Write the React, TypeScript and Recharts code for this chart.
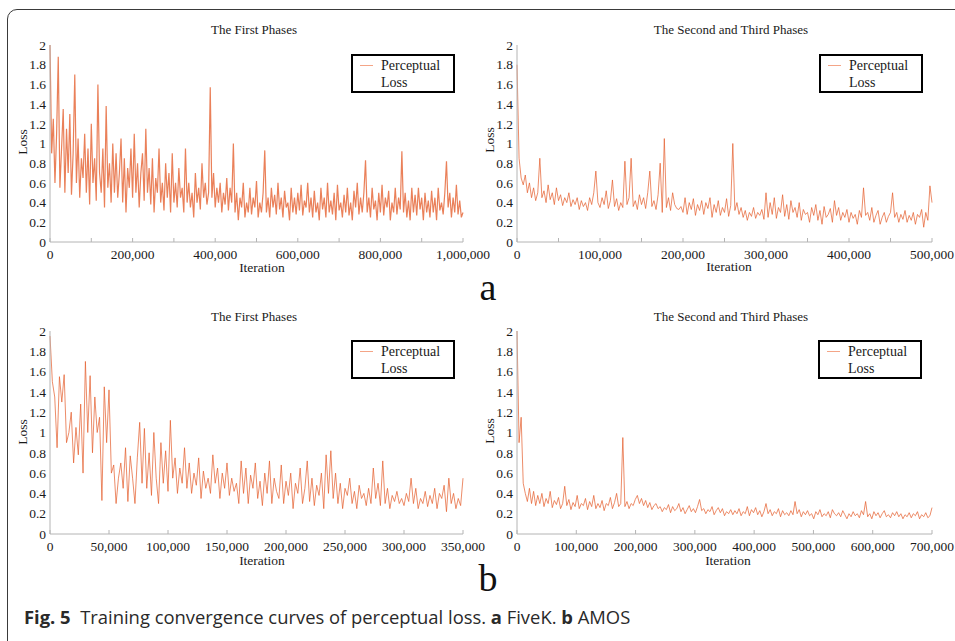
import React from 'react';
import { LineChart, Line, XAxis, YAxis, Legend } from 'recharts';

// ---------- data ----------
const fivekFirstStep = 4000;
const fivekFirstLoss = [
  2.0, 0.9, 1.25, 0.6, 1.1, 1.88, 0.55, 0.95, 1.35, 0.5,
  1.15, 0.7, 1.3, 0.48, 0.9, 1.7, 0.6, 1.05, 0.45, 0.85,
  0.65, 1.1, 0.5, 0.95, 0.38, 1.2, 0.6, 0.85, 0.42, 1.6,
  0.7, 0.5, 0.95, 0.35, 1.38, 0.55, 0.8, 0.4, 1.0, 0.5,
  0.9, 0.45, 0.7, 1.05, 0.4, 0.85, 0.3, 0.75, 0.55, 0.95,
  0.45, 1.1, 0.5, 0.8, 0.35, 0.7, 0.9, 0.42, 1.15, 0.5,
  0.75, 0.38, 0.85, 0.3, 0.65, 0.5, 0.95, 0.4, 0.6, 0.32,
  0.8, 0.45, 0.7, 0.3, 0.9, 0.4, 0.6, 0.35, 0.75, 0.45,
  0.55, 0.3, 0.95, 0.4, 0.6, 0.35, 0.5, 0.25, 0.7, 0.4,
  0.55, 0.33, 0.8, 0.45, 0.6, 0.38, 0.5, 1.57, 0.45, 0.7,
  0.35, 0.55, 0.4, 0.6, 0.3, 0.5, 0.38, 0.65, 0.32, 0.55,
  0.4, 1.0, 0.3, 0.5, 0.22, 0.45, 0.35, 0.6, 0.25, 0.4,
  0.3, 0.55, 0.28, 0.45, 0.35, 0.62, 0.25, 0.4, 0.3, 0.5,
  0.93, 0.3, 0.45, 0.25, 0.55, 0.35, 0.48, 0.28, 0.6, 0.33,
  0.45, 0.25, 0.52, 0.35, 0.4, 0.22, 0.55, 0.3, 0.45, 0.28,
  0.5, 0.32, 0.58, 0.27, 0.42, 0.35, 0.6, 0.3, 0.45, 0.25,
  0.52, 0.3, 0.4, 0.22, 0.55, 0.33, 0.45, 0.25, 0.6, 0.3,
  0.42, 0.28, 0.5, 0.22, 0.58, 0.32, 0.4, 0.25, 0.48, 0.3,
  0.55, 0.27, 0.4, 0.22, 0.52, 0.35, 0.6, 0.28, 0.45, 0.3,
  0.5, 0.83, 0.3, 0.45, 0.25, 0.55, 0.33, 0.42, 0.22, 0.5,
  0.3, 0.58, 0.27, 0.45, 0.35, 0.52, 0.22, 0.4, 0.3, 0.55,
  0.28, 0.45, 0.33, 0.92, 0.3, 0.5, 0.25, 0.42, 0.22, 0.55,
  0.3, 0.48, 0.27, 0.55, 0.33, 0.45, 0.22, 0.5, 0.3, 0.42,
  0.25, 0.52, 0.3, 0.45, 0.22, 0.55, 0.32, 0.4, 0.28, 0.5,
  0.82, 0.35, 0.5, 0.25, 0.45, 0.3, 0.58, 0.28, 0.42, 0.25,
  0.3,
];

const fivekSecondStep = 2500;
const fivekSecondLoss = [
  1.8, 0.85, 0.65, 0.58, 0.68, 0.5, 0.6, 0.45, 0.55, 0.42,
  0.5, 0.85, 0.45, 0.52, 0.4, 0.58, 0.43, 0.5, 0.38, 0.55,
  0.42, 0.48, 0.37, 0.45, 0.4, 0.5, 0.36, 0.43, 0.38, 0.45,
  0.33, 0.42, 0.36, 0.4, 0.32, 0.45, 0.38, 0.5, 0.72, 0.4,
  0.35, 0.45, 0.38, 0.52, 0.34, 0.42, 0.63, 0.36, 0.44, 0.32,
  0.4, 0.35, 0.82, 0.38, 0.45, 0.85, 0.36, 0.42, 0.33, 0.48,
  0.38, 0.45, 0.34, 0.5, 0.72, 0.36, 0.42, 0.33, 0.48, 0.8,
  0.3, 1.05, 0.35, 0.45, 0.32, 0.5, 0.38, 0.34, 0.33, 0.36,
  0.3, 0.45, 0.28, 0.4, 0.33, 0.44, 0.27, 0.38, 0.32, 0.42,
  0.28, 0.4, 0.34, 0.45, 0.25, 0.38, 0.3, 0.42, 0.27, 0.35,
  0.3, 0.44, 0.26, 0.37, 1.0, 0.32, 0.4, 0.28, 0.35, 0.25,
  0.32, 0.22, 0.3, 0.26, 0.35, 0.24, 0.3, 0.27, 0.33, 0.23,
  0.5, 0.25, 0.4, 0.28, 0.45, 0.24, 0.35, 0.3, 0.48, 0.26,
  0.38, 0.23, 0.42, 0.3, 0.35, 0.25, 0.4, 0.22, 0.33, 0.28,
  0.3, 0.2, 0.35, 0.27, 0.38, 0.22, 0.32, 0.18, 0.36, 0.25,
  0.28, 0.34, 0.2, 0.42, 0.27, 0.35, 0.22, 0.3, 0.25, 0.33,
  0.2, 0.3, 0.24, 0.28, 0.18, 0.32, 0.25, 0.55, 0.27, 0.3,
  0.22, 0.35, 0.2, 0.27, 0.32, 0.18, 0.25, 0.3, 0.2, 0.26,
  0.3, 0.5, 0.25, 0.3, 0.2, 0.28, 0.23, 0.32, 0.2, 0.27,
  0.22, 0.3, 0.18, 0.28, 0.25, 0.33, 0.15, 0.3, 0.22, 0.57,
  0.4,
];

const amosFirstStep = 2000;
const amosFirstLoss = [
  1.95, 1.5, 1.35, 0.85, 1.55, 1.3, 1.57, 0.9, 1.0, 1.2,
  0.7, 1.05, 0.78, 1.28, 0.6, 1.7, 1.0, 1.56, 0.8, 1.35,
  1.0, 1.15, 0.33, 1.45, 0.9, 1.42, 0.6, 0.68, 0.3, 0.55,
  0.7, 0.45, 0.85, 0.32, 0.77, 0.55, 0.3, 0.75, 1.1, 0.5,
  1.04, 0.45, 0.8, 0.38, 1.0, 0.55, 0.3, 0.9, 0.5, 0.82,
  0.42, 1.12, 0.55, 0.75, 0.4, 0.65, 0.5, 0.85, 0.45, 0.7,
  0.4, 0.6, 0.48, 0.75, 0.35, 0.62, 0.45, 0.55, 0.4, 0.78,
  0.5, 0.65, 0.35, 0.6, 0.45, 0.7, 0.38, 0.55, 0.42, 0.5,
  0.3, 0.72, 0.4, 0.65, 0.3, 0.58, 0.45, 0.7, 0.35, 0.52,
  0.28, 0.6, 0.4, 0.72, 0.3, 0.55, 0.42, 0.35, 0.68, 0.3,
  0.52, 0.38, 0.6, 0.25, 0.5, 0.4, 0.65, 0.3, 0.45, 0.72,
  0.32, 0.55, 0.28, 0.48, 0.38, 0.6, 0.25, 0.78, 0.4, 0.82,
  0.35, 0.6, 0.3, 0.5, 0.25, 0.45, 0.38, 0.55, 0.3, 0.42,
  0.25, 0.48, 0.35, 0.4, 0.28, 0.45, 0.3, 0.65, 0.35, 0.5,
  0.28, 0.72, 0.3, 0.45, 0.25, 0.38, 0.32, 0.42, 0.3, 0.35,
  0.28, 0.4, 0.32, 0.55, 0.3, 0.45, 0.25, 0.35, 0.3, 0.42,
  0.27, 0.38, 0.3, 0.45, 0.25, 0.4, 0.35, 0.48, 0.22, 0.55,
  0.3, 0.4, 0.25, 0.35, 0.28, 0.55,
];

const amosSecondStep = 3500;
const amosSecondLoss = [
  2.0, 0.9, 1.15, 0.5, 0.4, 0.32, 0.45, 0.3, 0.42, 0.28,
  0.38, 0.3, 0.4, 0.27, 0.35, 0.3, 0.42, 0.26, 0.33, 0.29,
  0.36, 0.25, 0.3, 0.47, 0.28, 0.34, 0.24, 0.31, 0.27, 0.38,
  0.25, 0.3, 0.28, 0.35, 0.24, 0.32, 0.27, 0.38, 0.25, 0.3,
  0.26, 0.33, 0.23, 0.3, 0.28, 0.36, 0.25, 0.31, 0.4, 0.27,
  0.3, 0.95, 0.27, 0.32, 0.25, 0.3, 0.28, 0.34, 0.38, 0.3,
  0.35, 0.28, 0.33, 0.26, 0.31, 0.24, 0.28, 0.3, 0.25, 0.27,
  0.22, 0.26, 0.24, 0.29, 0.21, 0.27, 0.23, 0.25, 0.3, 0.22,
  0.26, 0.2, 0.24, 0.28, 0.22, 0.25, 0.21, 0.27, 0.34, 0.23,
  0.25, 0.2, 0.24, 0.22, 0.27, 0.19, 0.23, 0.26, 0.21, 0.25,
  0.18, 0.22, 0.2, 0.24, 0.19, 0.23, 0.2, 0.25, 0.18, 0.22,
  0.2, 0.27, 0.18, 0.24, 0.21, 0.26, 0.19, 0.23, 0.17, 0.22,
  0.3, 0.2, 0.24, 0.18, 0.22, 0.2, 0.25, 0.17, 0.23, 0.19,
  0.21, 0.18, 0.23, 0.19, 0.32, 0.2, 0.24, 0.17, 0.22, 0.19,
  0.23, 0.18, 0.2, 0.15, 0.22, 0.19, 0.24, 0.17, 0.2, 0.18,
  0.22, 0.16, 0.24, 0.2, 0.18, 0.21, 0.17, 0.23, 0.19, 0.15,
  0.2, 0.17, 0.22, 0.18, 0.2, 0.16, 0.23, 0.19, 0.32, 0.17,
  0.2, 0.15, 0.22, 0.18, 0.21, 0.16, 0.2, 0.23, 0.17, 0.19,
  0.16, 0.21, 0.18, 0.22, 0.17, 0.2, 0.15, 0.19, 0.17, 0.21,
  0.16, 0.2, 0.18, 0.22, 0.15, 0.19, 0.17, 0.21, 0.16, 0.18,
  0.26,
];

const yTicks = [0, 0.2, 0.4, 0.6, 0.8, 1, 1.2, 1.4, 1.6, 1.8, 2];

const fivekFirstTicks = [0, 100000, 200000, 300000, 400000, 500000, 600000, 700000, 800000, 900000, 1000000];
const fivekFirstLabels = [0, 200000, 400000, 600000, 800000, 1000000];
const fivekSecondTicks = [0, 50000, 100000, 150000, 200000, 250000, 300000, 350000, 400000, 450000, 500000];
const fivekSecondLabels = [0, 100000, 200000, 300000, 400000, 500000];
const amosFirstTicks = [0, 50000, 100000, 150000, 200000, 250000, 300000, 350000];
const amosSecondTicks = [0, 100000, 200000, 300000, 400000, 500000, 600000, 700000];

const firstTitle = 'The First Phases';
const secondTitle = 'The Second and Third Phases';
const seriesName = 'Perceptual Loss';

// ---------- styles ----------
const SERIF = 'Liberation Serif, Tinos, Nimbus Roman, serif';
const LINE = '#e5602f';
const LEGEND_LINE = '#f4a587';
const AXIS = '#b4b4b4';
const TEXT = '#1a1a1a';

const buildRows = (loss: number[], step: number) => loss.map((v, i) => ({ iter: i * step, loss: v }));

const fmt = (v: number) => (v === 0 ? '0' : v.toLocaleString('en-US'));

const makeXTick = (labels: number[]) => (props: any) => {
  const { x, y, payload } = props;
  const v = payload.value as number;
  if (!labels.includes(v)) return <g />;
  return (
    <text x={x} y={y} dy="0.71em" textAnchor="middle" fontSize={13.5} fontFamily={SERIF} fill={TEXT}>
      {fmt(v)}
    </text>
  );
};

const LegendBox = () => (
  <div
    style={{
      width: 100,
      height: 35,
      border: '2px solid #000',
      background: '#fff',
      position: 'relative',
      fontFamily: SERIF,
      fontSize: 14,
      color: TEXT,
    }}
  >
    <div style={{ position: 'absolute', left: 7, top: 9, width: 13, height: 1.3, background: LEGEND_LINE }} />
    <div style={{ position: 'absolute', left: 28, top: 1, lineHeight: '17px' }}>
      Perceptual
      <br />
      Loss
    </div>
  </div>
);

type PanelProps = {
  left: number;
  top: number;
  width: number;
  height: number;
  marginRight: number;
  rows: { iter: number; loss: number }[];
  xMax: number;
  xTicks: number[];
  xLabels: number[];
  legendLeft: number;
  strokeWidth?: number;
  strokeOpacity?: number;
};

const Panel = ({ left, top, width, height, marginRight, rows, xMax, xTicks, xLabels, legendLeft, strokeWidth = 1, strokeOpacity = 0.72 }: PanelProps) => (
  <div style={{ position: 'absolute', left, top, width, height }}>
    <LineChart
      width={width}
      height={height}
      data={rows}
      margin={{ top: 45, right: marginRight, bottom: 0, left: 0 }}
    >
      <XAxis
        dataKey="iter"
        type="number"
        domain={[0, xMax]}
        ticks={xTicks}
        interval={0}
        height={33}
        tickSize={-4}
        tickMargin={11}
        axisLine={{ stroke: AXIS }}
        tickLine={{ stroke: AXIS }}
        tick={makeXTick(xLabels)}
      />
      <XAxis
        xAxisId="top"
        orientation="top"
        type="number"
        domain={[0, xMax]}
        ticks={xTicks}
        interval={0}
        height={0}
        tickSize={-4}
        axisLine={{ stroke: AXIS }}
        tickLine={{ stroke: AXIS }}
        tick={false}
      />
      <YAxis
        type="number"
        domain={[0, 2]}
        ticks={yTicks}
        interval={0}
        width={50}
        tickSize={0}
        tickMargin={4}
        tickLine={false}
        axisLine={{ stroke: AXIS }}
        tick={{ fontSize: 13.5, fontFamily: SERIF, fill: TEXT }}
      />
      <YAxis
        yAxisId="right"
        orientation="right"
        type="number"
        domain={[0, 2]}
        ticks={yTicks}
        interval={0}
        width={0}
        tickSize={-4}
        axisLine={{ stroke: AXIS }}
        tickLine={{ stroke: AXIS }}
        tick={false}
      />
      <Legend
        layout="horizontal"
        align="center"
        verticalAlign="middle"
        content={() => <LegendBox />}
        wrapperStyle={{ position: 'absolute', left: legendLeft, top: 54, width: 104, height: 39 }}
      />
      <Line
        type="linear"
        dataKey="loss"
        name={seriesName}
        stroke={LINE}
        strokeWidth={strokeWidth}
        strokeOpacity={strokeOpacity}
        dot={false}
        activeDot={false}
        isAnimationActive={false}
      />
    </LineChart>
  </div>
);

const Txt = ({ cx, cy, children, size = 13.5, rotate = 0, family = SERIF }: any) => (
  <div
    style={{
      position: 'absolute',
      left: cx - 150,
      top: cy - 10,
      width: 300,
      height: 20,
      lineHeight: '20px',
      textAlign: 'center',
      fontFamily: family,
      fontSize: size,
      color: TEXT,
      transform: rotate ? `rotate(${rotate}deg)` : undefined,
      whiteSpace: 'nowrap',
    }}
  >
    {children}
  </div>
);

const Big = ({ cx, cy, children }: any) => (
  <div
    style={{
      position: 'absolute',
      left: cx - 30,
      top: cy - 25,
      width: 60,
      height: 50,
      lineHeight: '50px',
      textAlign: 'center',
      fontFamily: SERIF,
      fontSize: 38,
      color: '#111',
    }}
  >
    {children}
  </div>
);

export default function App() {
  return (
    <div style={{ position: 'absolute', left: 0, top: 0, width: 955, height: 641, overflow: 'hidden', background: '#fff' }}>
      <style>{`.recharts-surface{overflow:visible}`}</style>
      <div
        style={{
          position: 'absolute',
          left: 7,
          top: 9,
          width: 980,
          height: 680,
          border: '1.5px solid #3a3a3a',
          borderRadius: 10,
          boxSizing: 'border-box',
        }}
      />

      <Panel left={0} top={0} width={480} height={275} marginRight={17}
        rows={buildRows(fivekFirstLoss, fivekFirstStep)} xMax={1000000}
        xTicks={fivekFirstTicks} xLabels={fivekFirstLabels} legendLeft={351}
        strokeWidth={1.2} strokeOpacity={0.8} />
      <Panel left={467} top={0} width={480} height={275} marginRight={15}
        rows={buildRows(fivekSecondLoss, fivekSecondStep)} xMax={500000}
        xTicks={fivekSecondTicks} xLabels={fivekSecondLabels} legendLeft={352} />
      <Panel left={0} top={286} width={480} height={281} marginRight={17}
        rows={buildRows(amosFirstLoss, amosFirstStep)} xMax={350000}
        xTicks={amosFirstTicks} xLabels={amosFirstTicks} legendLeft={351} />
      <Panel left={467} top={286} width={480} height={281} marginRight={15}
        rows={buildRows(amosSecondLoss, amosSecondStep)} xMax={700000}
        xTicks={amosSecondTicks} xLabels={amosSecondTicks} legendLeft={351} />

      <Txt cx={254} cy={30} size={13}>{firstTitle}</Txt>
      <Txt cx={731} cy={30} size={13}>{secondTitle}</Txt>
      <Txt cx={254} cy={317} size={13}>{firstTitle}</Txt>
      <Txt cx={731} cy={317} size={13}>{secondTitle}</Txt>

      <Txt cx={23} cy={142} rotate={-90}>Loss</Txt>
      <Txt cx={490} cy={140} rotate={-90}>Loss</Txt>
      <Txt cx={23} cy={432} rotate={-90}>Loss</Txt>
      <Txt cx={490} cy={431} rotate={-90}>Loss</Txt>

      <Txt cx={262} cy={268}>Iteration</Txt>
      <Txt cx={729} cy={267}>Iteration</Txt>
      <Txt cx={262} cy={561}>Iteration</Txt>
      <Txt cx={728} cy={561}>Iteration</Txt>

      <Big cx={488} cy={287}>a</Big>
      <Big cx={488} cy={578}>b</Big>

      <div
        style={{
          position: 'absolute',
          left: 24,
          top: 606,
          fontFamily: '"Open Sans", "Noto Sans", sans-serif',
          fontSize: 18.4,
          lineHeight: '22px',
          color: '#2a2a2a',
          whiteSpace: 'nowrap',
        }}
      >
        <b>Fig. 5</b>&nbsp; Training convergence curves of perceptual loss. <b>a</b> FiveK. <b>b</b> AMOS
      </div>
    </div>
  );
}
